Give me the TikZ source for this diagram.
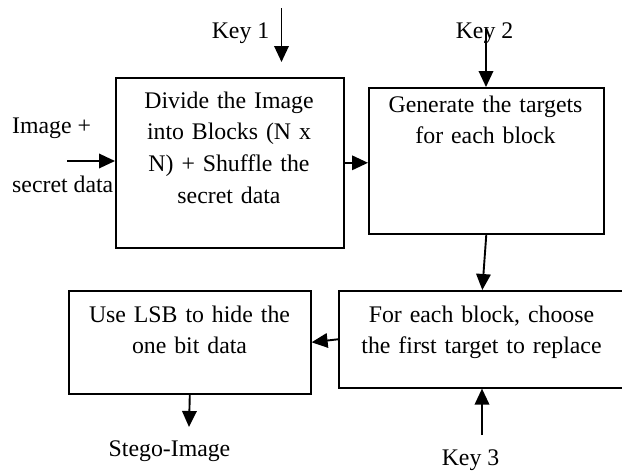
\documentclass[tikz,border=0pt]{standalone}
\usepackage{fontspec}
\setmainfont{Liberation Serif}
\usetikzlibrary{arrows.meta}
\begin{document}
\begin{tikzpicture}[x=1pt,y=-1pt,
  stepbox/.style={draw, line width=1.6pt, anchor=north west, inner sep=0pt},
  boxtext/.style={anchor=base, align=center, inner sep=0pt,
    font=\fontsize{23.8}{31.7}\selectfont},
  lbl/.style={anchor=base, inner sep=0pt, font=\fontsize{23.8}{31.7}\selectfont},
  arr/.style={line width=1.9pt, -{Triangle[length=16pt,width=14.5pt]}}]
\useasboundingbox (0,0) rectangle (622,475);

% process boxes
\node[stepbox, minimum width=228pt, minimum height=170pt] (b1) at (115,77) {};
\node[stepbox, minimum width=235pt, minimum height=146pt] (b2) at (368,87) {};
\node[stepbox, minimum width=287pt, minimum height=97pt]  (b3) at (338,290) {};
\node[stepbox, minimum width=242pt, minimum height=103pt] (b4) at (68,290) {};

% box texts
\node[boxtext, text width=220pt] (t1) at (229,108)
  {Divide the Image\\into Blocks (N x\\N) + Shuffle the\\secret data};
\node[boxtext, text width=230pt] (t2) at (485.5,112)
  {Generate the targets\\for each block};
\node[boxtext, text width=270pt] (t3) at (481.5,322)
  {For each block, choose\\the first target to replace};
\node[boxtext, text width=236pt] (t4) at (189.5,322)
  {Use LSB to hide the\\one bit data};

% labels
\node[lbl] (key1) at (240.5,38) {Key 1};
\node[lbl] (key2) at (484.5,38) {Key 2};
\node[lbl] (key3) at (470.5,465) {Key 3};
\node[lbl] (stego) at (169.5,456) {Stego-Image};
\node[lbl, anchor=base west] (inA) at (12,133) {Image +};
\node[lbl, anchor=base west] (inB) at (12,192) {secret data};

% free ends of the input arrows
\coordinate (k1s) at (281.5,8);
\coordinate (k2s) at (486,29);
\coordinate (k3s) at (482,435);
\coordinate (ins) at (67,161);
\coordinate (outs) at (189,427);

% connectors
\draw[arr, shorten >=15pt] (k1s) -- (k1s |- b1.north);
\draw[arr] (ins) -- (ins -| b1.west);
\draw[arr] (b1.east) -- (b1.east -| b2.west);
\draw[arr] (k2s) -- (k2s |- b2.north);
\draw[arr] (b2.south) -- (b3.north);
\draw[arr] (b3.west) -- (b4.east);
\draw[arr] (k3s) -- (k3s |- b3.south);
\draw[arr] (b4.south) -- (outs);
\end{tikzpicture}
\end{document}
